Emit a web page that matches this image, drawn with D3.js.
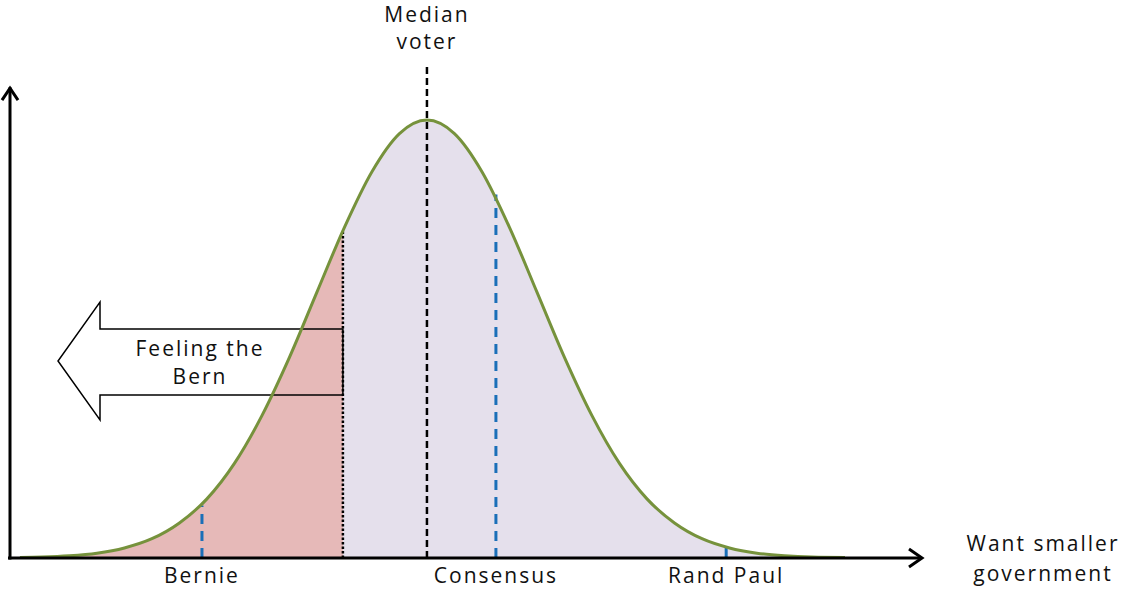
<!DOCTYPE html>
<html>
<head>
<meta charset="utf-8">
<script src="https://cdn.jsdelivr.net/npm/d3@7"></script>
<style>
  body { margin: 0; background: #fff; }
  svg text { font-family: "Open Sans", sans-serif; fill: #111; letter-spacing: 2px; }
</style>
</head>
<body>
<svg id="chart" width="1124" height="589"></svg>
<script>
// voter density (peak = 1), x in std devs from the median voter
const curveX = [-3.7, -3.5, -3.25, -3, -2.75, -2.5, -2.25, -2, -1.75, -1.5, -1.25, -1, -0.75, -0.5, -0.25, 0,
                0.25, 0.5, 0.75, 1, 1.25, 1.5, 1.75, 2, 2.25, 2.5, 2.75, 3, 3.25, 3.5, 3.8];
const curveY = [0.001, 0.002, 0.005, 0.011, 0.023, 0.044, 0.080, 0.135, 0.216, 0.325, 0.458, 0.607, 0.755, 0.882, 0.969, 1,
                0.969, 0.882, 0.755, 0.607, 0.458, 0.325, 0.216, 0.135, 0.080, 0.044, 0.023, 0.011, 0.005, 0.002, 0.001];

const candidates = ["Bernie", "Consensus", "Rand Paul"];
const candidateX = [-2.045, 0.627, 2.72];
const candidateY = [0.12, 0.83, 0.025];

const medianX = 0;
const bernCut = -0.764;   // left of this is "feeling the Bern"
const bernCutY = 0.75;

const axisLabel = ["Want smaller", "government"];
const medianLabel = ["Median", "voter"];
const arrowLabel = ["Feeling the", "Bern"];

const curve = curveX.map((x, i) => ({ x: x, y: curveY[i] }));

const svg = d3.select("#chart");

const x = d3.scaleLinear().domain([-3.79, 4.5]).range([10, 922]);
const y = d3.scaleLinear().domain([0, 1]).range([558, 120]);

const area = d3.area()
    .x(d => x(d.x))
    .y0(y(0))
    .y1(d => y(d.y))
    .curve(d3.curveMonotoneX);

const line = d3.line()
    .x(d => x(d.x))
    .y(d => y(d.y))
    .curve(d3.curveMonotoneX);

// clip regions for the two shaded parts
const defs = svg.append("defs");
defs.append("clipPath").attr("id", "clipLeft")
    .append("rect")
    .attr("x", 0).attr("y", 0)
    .attr("width", x(bernCut)).attr("height", 589);
defs.append("clipPath").attr("id", "clipRight")
    .append("rect")
    .attr("x", x(bernCut)).attr("y", 0)
    .attr("width", 1124 - x(bernCut)).attr("height", 589);

svg.append("path")
    .datum(curve)
    .attr("d", area)
    .attr("fill", "#e6b9b8")
    .attr("clip-path", "url(#clipLeft)");

svg.append("path")
    .datum(curve)
    .attr("d", area)
    .attr("fill", "#e5e0ec")
    .attr("clip-path", "url(#clipRight)");

// candidate markers
svg.selectAll(".cand-line")
    .data(candidates)
    .enter().append("line")
    .attr("class", "cand-line")
    .attr("x1", (d, i) => x(candidateX[i]))
    .attr("x2", (d, i) => x(candidateX[i]))
    .attr("y1", y(0))
    .attr("y2", (d, i) => y(candidateY[i]))
    .attr("stroke", "#1a6fb8")
    .attr("stroke-width", 3)
    .attr("stroke-dasharray", "10,7");

// the Bern cut (dotted)
svg.append("line")
    .attr("x1", x(bernCut)).attr("x2", x(bernCut))
    .attr("y1", y(0)).attr("y2", y(bernCutY))
    .attr("stroke", "#000")
    .attr("stroke-width", 2.5)
    .attr("stroke-dasharray", "2.5,2");

// median voter (dashed)
svg.append("line")
    .attr("x1", x(medianX)).attr("x2", x(medianX))
    .attr("y1", y(0)).attr("y2", y(1.13))
    .attr("stroke", "#000")
    .attr("stroke-width", 2.5)
    .attr("stroke-dasharray", "7,4");

// "Feeling the Bern" arrow pointing left (outline only)
const ax = x(bernCut);
const arrow = [[ax, 329], [100, 329], [100, 302], [58, 361], [100, 420], [100, 395], [ax, 395]];
svg.append("path")
    .attr("d", d3.line()(arrow) + "Z")
    .attr("fill", "none")
    .attr("stroke", "#000")
    .attr("stroke-width", 1.5);

// density curve
svg.append("path")
    .datum(curve)
    .attr("d", line)
    .attr("fill", "none")
    .attr("stroke", "#76923c")
    .attr("stroke-width", 3);

// axes with open arrowheads
const axes = svg.append("g")
    .attr("stroke", "#000")
    .attr("stroke-width", 3)
    .attr("fill", "none");

const x0 = x.range()[0], x1 = x.range()[1];
const yTop = y(1.075);

axes.append("line")
    .attr("x1", x0).attr("x2", x0)
    .attr("y1", y(0) + 1.5).attr("y2", yTop);
axes.append("path")
    .attr("d", `M${x0 - 8},${yTop + 13} L${x0},${yTop + 1} L${x0 + 8},${yTop + 13}`);

axes.append("line")
    .attr("x1", x0 - 2).attr("x2", x1 - 1)
    .attr("y1", y(0)).attr("y2", y(0));
axes.append("path")
    .attr("d", `M${x1 - 13},${y(0) - 9} L${x1},${y(0)} L${x1 - 13},${y(0) + 9}`);

// candidate labels
svg.selectAll(".cand-label")
    .data(candidates)
    .enter().append("text")
    .attr("class", "cand-label")
    .attr("x", (d, i) => x(candidateX[i]))
    .attr("y", 583)
    .attr("text-anchor", "middle")
    .style("font-size", "21px")
    .text(d => d);

// axis title
svg.selectAll(".axis-label")
    .data(axisLabel)
    .enter().append("text")
    .attr("x", 1043)
    .attr("y", (d, i) => 551 + i * 30)
    .attr("text-anchor", "middle")
    .style("font-size", "21px")
    .text(d => d);

// median voter label
svg.selectAll(".median-label")
    .data(medianLabel)
    .enter().append("text")
    .attr("x", x(medianX))
    .attr("y", (d, i) => 22 + i * 27)
    .attr("text-anchor", "middle")
    .style("font-size", "21px")
    .text(d => d);

svg.selectAll(".arrow-label")
    .data(arrowLabel)
    .enter().append("text")
    .attr("x", 200)
    .attr("y", (d, i) => 356 + i * 28)
    .attr("text-anchor", "middle")
    .style("font-size", "21px")
    .text(d => d);
</script>
</body>
</html>
